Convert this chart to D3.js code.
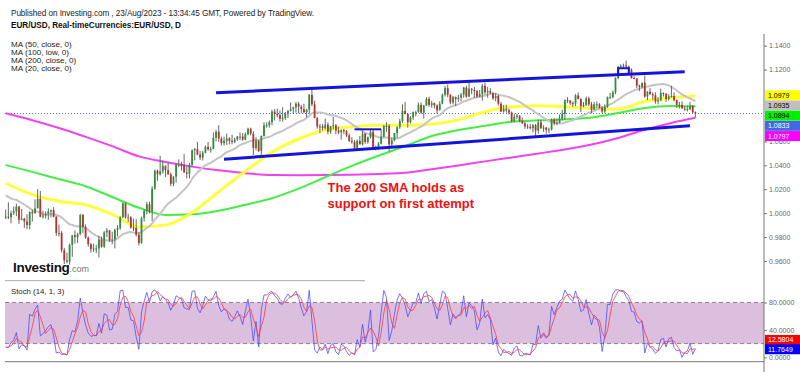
<!DOCTYPE html>
<html>
<head>
<meta charset="utf-8">
<script src="https://cdn.jsdelivr.net/npm/d3@7"></script>
<style>
  body { margin: 0; background: #fff; }
  svg { display: block; font-family: "Liberation Sans", Arial, sans-serif; }
</style>
</head>
<body>
<svg id="chart" width="800" height="376"></svg>
<script>
// ---- data ----
// daily EUR/USD bars, weekdays only, [open, high, low, close] in pips (x 10000)
const firstBarDate = "2022-07-28";      // first bar (warm-up for MA20 / Stoch, left of the window)
const firstVisibleDate = "2022-08-25";  // first bar shown on the chart
const ohlc = [
  // Jul 28 - Aug 24 2022 (warm-up)
  [10200,10235,10095,10195],[10195,10255,10145,10220],[10220,10275,10185,10260],[10260,10295,10160,10165],[10165,10215,10125,10130],
  [10130,10255,10120,10245],[10245,10250,10140,10180],[10180,10230,10165,10195],[10195,10245,10170,10210],[10210,10365,10200,10300],
  [10300,10365,10275,10320],[10320,10330,10235,10260],[10260,10265,10150,10160],[10160,10200,10120,10170],[10170,10200,10125,10180],
  [10180,10190,10075,10090],[10090,10095,10030,10035],[10035,10045,9925,9940],[9940,9980,9900,9970],[9970,9995,9910,9970],
  // Aug 25 - 31 2022
  [9970,10030,9950,9970],[9970,10090,9950,9965],[9965,10020,9915,10000],[10000,10055,9985,10015],[10015,10080,9975,10055],
  // Sep 2022
  [10055,10060,9910,9945],[9945,10035,9940,9955],[9955,9960,9875,9930],[9930,9990,9865,9900],[9900,10015,9865,10010],
  [10010,10030,9930,10000],[10000,10115,9995,10040],[10040,10200,10040,10120],[10120,10185,9965,9970],[9970,10020,9955,9980],
  [9980,10015,9955,9995],[9995,10040,9945,10015],[10015,10030,9965,10025],[10025,10050,9965,9970],[9970,9975,9810,9835],
  [9835,9905,9805,9835],[9835,9850,9670,9690],[9690,9710,9575,9605],[9605,9670,9580,9595],[9595,9745,9570,9735],
  [9735,9815,9635,9815],[9815,9855,9745,9800],
  // Oct 2022
  [9800,9835,9750,9825],[9825,9995,9815,9985],[9985,9995,9835,9885],[9885,9905,9785,9795],[9795,9805,9720,9740],
  [9740,9750,9670,9700],[9700,9745,9675,9705],[9705,9735,9665,9705],[9705,9810,9630,9780],[9780,9805,9710,9720],
  [9720,9850,9710,9840],[9840,9875,9800,9855],[9855,9860,9760,9775],[9775,9845,9740,9780],[9780,9870,9705,9860],
  [9860,9900,9805,9875],[9875,9975,9860,9965],[9965,10090,9960,10080],[10080,10090,9955,9965],[9965,9995,9925,9965],
  [9965,9975,9870,9880],
  // Nov 2022
  [9880,9955,9850,9875],[9875,9950,9805,9820],[9820,9840,9730,9750],[9750,9970,9745,9960],[9960,10035,9930,10020],
  [10020,10095,9990,10075],[10075,10095,10000,10015],[10015,10225,9935,10205],[10205,10365,10195,10355],[10355,10365,10270,10325],
  [10325,10480,10315,10350],[10350,10440,10330,10395],[10395,10400,10300,10360],[10360,10425,10320,10325],[10325,10340,10225,10245],
  [10245,10310,10225,10305],[10305,10415,10255,10405],[10405,10450,10385,10410],[10410,10430,10355,10400],[10400,10495,10340,10340],
  [10340,10390,10290,10330],[10330,10420,10290,10405],
  // Dec 2022
  [10405,10535,10390,10525],[10525,10545,10440,10535],[10535,10595,10485,10490],[10490,10520,10445,10465],[10465,10520,10440,10505],
  [10505,10565,10500,10555],[10555,10595,10520,10535],[10535,10555,10505,10535],[10535,10675,10535,10630],[10630,10695,10600,10680],
  [10680,10735,10595,10625],[10625,10640,10565,10585],[10585,10640,10565,10605],[10605,10665,10570,10625],[10625,10635,10575,10605],
  [10605,10655,10575,10595],[10595,10630,10585,10615],[10615,10645,10605,10640],[10640,10675,10610,10640],[10640,10670,10605,10615],
  [10615,10675,10610,10660],[10660,10715,10650,10705],
  // Jan 2023
  [10705,10715,10650,10665],[10665,10685,10485,10545],[10545,10635,10525,10605],[10605,10610,10510,10520],[10520,10650,10485,10645],
  [10645,10760,10640,10735],[10735,10760,10715,10735],[10735,10775,10715,10760],[10760,10865,10735,10850],[10850,10870,10775,10830],
  [10830,10875,10800,10820],[10820,10860,10765,10790],[10790,10885,10765,10795],[10795,10845,10780,10830],[10830,10860,10795,10855],
  [10855,10925,10850,10870],[10870,10890,10830,10885],[10885,10930,10840,10915],[10915,10930,10835,10890],[10890,10905,10835,10870],
  [10870,10915,10835,10845],[10845,10870,10800,10865],
  // Feb 2023
  [10865,10995,10830,10990],[10990,11035,10895,10910],[10910,10940,10795,10795],[10795,10805,10705,10725],[10725,10745,10670,10725],
  [10725,10745,10690,10710],[10710,10790,10700,10740],[10740,10760,10660,10680],[10680,10730,10665,10725],[10725,10805,10700,10735],
  [10735,10745,10660,10690],[10690,10725,10660,10675],[10675,10700,10615,10695],[10695,10705,10660,10685],[10685,10695,10635,10650],
  [10650,10665,10595,10605],[10605,10635,10580,10595],[10595,10610,10535,10545],[10545,10615,10535,10605],[10605,10645,10575,10575],
  // Mar 2023
  [10575,10690,10565,10665],[10665,10670,10580,10595],[10595,10640,10580,10635],[10635,10695,10625,10680],[10680,10695,10545,10550],
  [10550,10565,10525,10545],[10545,10595,10530,10580],[10580,10700,10575,10640],[10640,10735,10635,10730],[10730,10760,10680,10730],
  [10730,10745,10515,10575],[10575,10630,10550,10610],[10610,10670,10600,10670],[10670,10725,10630,10720],[10720,10790,10705,10770],
  [10770,10910,10755,10855],[10855,10930,10825,10830],[10830,10835,10715,10760],[10760,10810,10750,10800],[10800,10850,10780,10845],
  [10845,10855,10810,10845],[10845,10925,10840,10905],[10905,10925,10830,10840],
  // Apr 2023
  [10840,10905,10790,10900],[10900,10970,10895,10955],[10955,10975,10890,10905],[10905,10940,10880,10920],[10920,10925,10875,10900],
  [10900,10910,10830,10860],[10860,10935,10860,10915],[10915,11000,10910,10990],[10990,11065,10975,11045],[11045,11075,10970,10990],
  [10990,10995,10910,10925],[10925,10980,10910,10970],[10970,10975,10895,10955],[10955,10990,10930,10965],[10965,11005,10935,10990],
  [10990,11055,10965,11050],[11050,11065,10965,10975],[10975,11095,10970,11040],[11040,11045,10995,11030],[11030,11055,10965,11020],
  // May 2023
  [11020,11030,10965,10975],[10975,11030,10970,10995],[10995,11080,10940,11065],[11065,11090,10990,11010],[11010,11055,10965,11020],
  [11020,11045,10995,11005],[11005,11010,10945,10960],[10960,11005,10935,10980],[10980,10990,10900,10915],[10915,10930,10845,10850],
  [10850,10905,10840,10870],[10870,10905,10840,10860],[10860,10875,10825,10840],[10840,10850,10760,10770],[10770,10830,10760,10805],
  [10805,10830,10785,10815],[10815,10820,10760,10770],[10770,10800,10745,10750],[10750,10765,10705,10725],[10725,10745,10705,10720],
  [10720,10745,10700,10710],[10710,10745,10675,10735],[10735,10745,10635,10690],
  // Jun 2023
  [10690,10780,10665,10760],[10760,10780,10705,10710],[10710,10735,10680,10715],[10715,10720,10665,10695],[10695,10715,10670,10700],
  [10700,10790,10690,10780],[10780,10795,10735,10750],[10750,10790,10735,10755],[10755,10825,10750,10790],[10790,10865,10775,10830],
  [10830,10950,10780,10945],[10945,10970,10920,10940],[10940,10945,10905,10920],[10920,10935,10890,10915],[10915,10995,10895,10985],
  [10985,11010,10950,10955],[10955,10960,10845,10895],[10895,10930,10885,10905],[10905,10975,10895,10960],[10960,10975,10895,10910],
  [10910,10930,10835,10865],[10865,10930,10865,10910],
  // Jul 2023
  [10910,10935,10875,10910],[10910,10920,10875,10880],[10880,10895,10835,10850],[10850,10910,10835,10890],[10890,10975,10880,10970],
  [10970,11005,10955,10970],[10970,11025,10960,11010],[11010,11135,10995,11130],[11130,11230,11120,11225],[11225,11245,11205,11230],
  [11230,11250,11205,11235],[11235,11275,11205,11225],[11225,11235,11190,11200],[11200,11210,11125,11130],[11130,11145,11120,11125],
  [11125,11130,11045,11065],[11065,11075,11020,11055],[11055,11090,11045,11090],[11090,11150,10965,10975],[10975,11020,10945,11015],
  [11015,11045,10990,10995],
  // Aug 2023
  [10995,11010,10945,10985],[10985,11010,10915,10935],[10935,10970,10910,10945],[10945,11040,10935,11005],[11005,11010,10975,11000],
  [11000,11000,10930,10955],[10955,10995,10940,10975],[10975,11065,10965,10980],[10980,11010,10935,10945],[10945,10950,10880,10905],
  [10905,10930,10875,10905],[10905,10935,10875,10875],[10875,10895,10855,10870],[10870,10895,10850,10870],[10870,10930,10860,10895],
  [10895,10905,10835,10845],[10845,10850,10800,10833]
];

// slow moving averages at these visible bar numbers
const maSampleBars = [0,10,20,30,40,50,60,70,80,90,100,110,120,130,140,150,160,170,180,190,200,210,220,230,240,250,259];
const ma50Close  = [1.0250,1.0155,1.0100,1.0070,0.9990,0.9885,0.9900,1.0005,1.0180,1.0350,1.0510,1.0620,1.0695,1.0722,1.0735,1.0735,1.0745,1.0780,1.0848,1.0890,1.0898,1.0890,1.0875,1.0870,1.0935,1.0965,1.0979];
const ma100Low   = [1.0402,1.0345,1.0285,1.0225,1.0135,1.0045,0.9985,0.9990,1.0020,1.0070,1.0125,1.0205,1.0300,1.0395,1.0480,1.0560,1.0645,1.0695,1.0730,1.0765,1.0776,1.0785,1.0800,1.0838,1.0880,1.0895,1.0894];
const ma200Close = [1.0835,1.0777,1.0712,1.0638,1.0560,1.0475,1.0428,1.0389,1.0358,1.0334,1.0318,1.0316,1.0318,1.0322,1.0328,1.0337,1.0368,1.0399,1.0433,1.0466,1.0499,1.0533,1.0574,1.0629,1.0697,1.0754,1.0797];

// last values shown in the right-hand boxes: MA50, MA20, MA100, price, MA200
const lastPriceLabels = [1.0979, 1.0935, 1.0894, 1.0833, 1.0797];
const lastStochLabels = [12.5804, 11.7649]; // %D, %K

// drawn trend lines: [date, price] points
const trendLines = [
  [["2022-12-14", 1.1007], ["2023-08-17", 1.1183]],
  [["2022-12-19", 1.0451], ["2023-08-21", 1.0731]]
];
const markLines = [
  [["2023-02-24", 1.0701], ["2023-03-10", 1.0701]],
  [["2023-07-13", 1.1160], ["2023-07-13", 1.1211], ["2023-07-19", 1.1211], ["2023-07-19", 1.1165]]
];

const priceTicks = [0.96, 0.98, 1.00, 1.02, 1.04, 1.06, 1.08, 1.10, 1.12, 1.14];
const stochTicks = [0, 40, 80];
const xTickDates  = ["2022-09-01","2022-10-03","2022-11-01","2022-12-01","2023-01-02","2023-02-01","2023-03-01","2023-04-03","2023-05-01","2023-06-01","2023-07-03","2023-08-01","2023-09-01","2023-09-27"];
const xTickLabels = ["Sep","Oct","Nov","Dec","2023","Feb","Mar","Apr","May","Jun","Jul","Aug","Sep","27"];

const headerLines = [
  "Published on Investing.com , 23/Aug/2023 - 13:34:45 GMT, Powered by TradingView.",
  "EUR/USD, Real-timeCurrencies:EUR/USD, D"
];
const legendLines = ["MA (50, close, 0)", "MA (100, low, 0)", "MA (200, close, 0)", "MA (20, close, 0)"];
const noteLines = ["The 200 SMA holds as", "support on first attempt"];

// ---- setup ----
const svg = d3.select("#chart");
const parse = d3.utcParse("%Y-%m-%d");
const isWeekday = d => d.getUTCDay() !== 0 && d.getUTCDay() !== 6;

const start = parse(firstBarDate);
const barDates = d3.utcDay.range(start, d3.utcDay.offset(start, 600)).filter(isWeekday).slice(0, ohlc.length);
const bars = ohlc.map((r, i) => ({ date: barDates[i], o: r[0] / 1e4, h: r[1] / 1e4, l: r[2] / 1e4, c: r[3] / 1e4 }));
const visStart = bars.findIndex(b => +b.date === +parse(firstVisibleDate));

// bar number (weekdays since the first visible bar), works for future dates too
function barIndex(s) {
  return d3.utcDay.range(parse(firstVisibleDate), parse(s)).filter(isWeekday).length;
}

const paneLeft = 5, paneRight = 764;
const x = d3.scaleLinear().domain([0, barIndex("2023-09-01")]).range([5.7, 714]);
const y = d3.scaleLinear().domain([0.96, 1.14]).range([261, 45.7]);
const ys = d3.scaleLinear().domain([0, 80]).range([357.3, 302.5]);

// indicators computed from the bars
bars.forEach((b, i) => {
  if (i >= 19) b.ma20 = d3.mean(bars.slice(i - 19, i + 1), d => d.c);
  if (i >= 13) {
    const win = bars.slice(i - 13, i + 1);
    const hh = d3.max(win, d => d.h), ll = d3.min(win, d => d.l);
    b.k = hh === ll ? 50 : 100 * (b.c - ll) / (hh - ll);
  }
  if (i >= 15) b.d = (bars[i].k + bars[i - 1].k + bars[i - 2].k) / 3;
});
const visible = bars.slice(visStart).map((b, i) => ({ ...b, i }));

svg.append("defs").append("clipPath").attr("id", "pane")
  .append("rect").attr("x", paneLeft).attr("y", 30).attr("width", paneRight - paneLeft).attr("height", 340);

// ---- header text ----
svg.append("text").attr("x", 11).attr("y", 15.5).attr("font-size", 8.2).attr("fill", "#222")
  .attr("textLength", 303).attr("lengthAdjust", "spacing").text(headerLines[0]);
svg.append("text").attr("x", 11).attr("y", 28).attr("font-size", 8.2).attr("font-weight", "bold").attr("fill", "#111")
  .attr("textLength", 170).attr("lengthAdjust", "spacing").text(headerLines[1]);
svg.selectAll(".legend").data(legendLines).join("text")
  .attr("x", 11).attr("y", (d, i) => 47 + i * 8)
  .attr("font-size", 8.1).attr("fill", "#222").text(d => d);

// ---- price pane ----
const price = svg.append("g").attr("clip-path", "url(#pane)");

// current price dotted line
price.append("line")
  .attr("x1", paneLeft).attr("x2", paneRight)
  .attr("y1", y(lastPriceLabels[3])).attr("y2", y(lastPriceLabels[3]))
  .attr("stroke", "#4a6fe0").attr("stroke-width", 1).attr("stroke-dasharray", "1,2");

const sampleLine = d3.line().x((d, i) => x(maSampleBars[i])).y(d => y(d)).curve(d3.curveMonotoneX);
price.append("path").attr("d", sampleLine(ma200Close)).attr("fill", "none").attr("stroke", "#ee44ee").attr("stroke-width", 2);
price.append("path").attr("d", sampleLine(ma100Low)).attr("fill", "none").attr("stroke", "#44ee44").attr("stroke-width", 2);
price.append("path").attr("d", sampleLine(ma50Close)).attr("fill", "none").attr("stroke", "#ffff3c").attr("stroke-width", 3);
price.append("path")
  .attr("d", d3.line().x(d => x(d.i)).y(d => y(d.ma20))(visible))
  .attr("fill", "none").attr("stroke", "#c4c4c4").attr("stroke-width", 2);

// candles
const candle = price.selectAll(".candle").data(visible).join("g");
candle.append("line")
  .attr("x1", d => x(d.i)).attr("x2", d => x(d.i))
  .attr("y1", d => y(d.h)).attr("y2", d => y(d.l))
  .attr("stroke", "#666").attr("stroke-width", 1);
candle.append("rect")
  .attr("x", d => x(d.i) - 0.9).attr("width", 1.8)
  .attr("y", d => y(Math.max(d.o, d.c)))
  .attr("height", d => Math.max(1, Math.abs(y(d.o) - y(d.c))))
  .attr("fill", d => d.c >= d.o ? "#2f8f3c" : "#b3342c");

// trend lines
const ptLine = d3.line().x(p => x(barIndex(p[0]))).y(p => y(p[1]));
price.selectAll(".trend").data(trendLines).join("path")
  .attr("d", ptLine).attr("fill", "none").attr("stroke", "#1414dc").attr("stroke-width", 3);
price.selectAll(".mark").data(markLines).join("path")
  .attr("d", ptLine).attr("fill", "none").attr("stroke", "#1414dc").attr("stroke-width", 2);

// annotation
svg.selectAll(".note").data(noteLines).join("text")
  .attr("x", 327.5).attr("y", (d, i) => 191.5 + i * 16.5)
  .attr("font-size", 13).attr("font-weight", "bold").attr("fill", "#ee1111").text(d => d);

// Investing logo
const logo = svg.append("text").attr("x", 13).attr("y", 271.5);
logo.append("tspan").attr("font-size", 13.5).attr("font-weight", "bold").attr("fill", "#111").attr("letter-spacing", -0.3).text("Investing");
logo.append("tspan").attr("font-size", 9).attr("fill", "#777").text(".com");

// pane separator
svg.append("line").attr("x1", 5).attr("x2", 365).attr("y1", 280.7).attr("y2", 280.7).attr("stroke", "#aaa");

// ---- stochastic pane ----
svg.append("text").attr("x", 11).attr("y", 294).attr("font-size", 7.8).attr("fill", "#222").text("Stoch (14, 1, 3)");

const stoch = svg.append("g").attr("clip-path", "url(#pane)");
stoch.append("rect")
  .attr("x", paneLeft).attr("width", paneRight - paneLeft)
  .attr("y", ys(80)).attr("height", ys(20) - ys(80))
  .attr("fill", "#dcbfdf");
[80, 20].forEach(v => stoch.append("line")
  .attr("x1", paneLeft).attr("x2", paneRight).attr("y1", ys(v)).attr("y2", ys(v))
  .attr("stroke", "#8a8290").attr("stroke-dasharray", "4,3"));
stoch.append("path")
  .attr("d", d3.line().x(d => x(d.i)).y(d => ys(d.k))(visible))
  .attr("fill", "none").attr("stroke", "#4545ff").attr("stroke-opacity", 0.75).attr("stroke-width", 1);
stoch.append("path")
  .attr("d", d3.line().x(d => x(d.i)).y(d => ys(d.d))(visible))
  .attr("fill", "none").attr("stroke", "#ff3a3a").attr("stroke-opacity", 0.8).attr("stroke-width", 1);

// ---- axes ----
svg.append("line").attr("x1", paneRight).attr("x2", paneRight).attr("y1", 34).attr("y2", 372).attr("stroke", "#777");
svg.append("line").attr("x1", paneLeft).attr("x2", paneRight).attr("y1", 361.7).attr("y2", 361.7).attr("stroke", "#777");

function styleAxis(g) {
  g.select(".domain").remove();
  g.selectAll("line").attr("stroke", "#777");
  g.selectAll("text").attr("fill", "#666").attr("font-size", 7).attr("font-family", "Liberation Sans, Arial, sans-serif");
}

// last value boxes sit on the price axis and hide the tick labels under them
let prev = -Infinity;
const priceBoxes = lastPriceLabels.map(v => {
  const cy = Math.max(y(v) - 0.8, prev + 10.2);
  prev = cy;
  return { v, cy };
});
const hidden = t => priceBoxes.some(b => Math.abs(y(t) - b.cy) < 4);

svg.append("g").attr("transform", `translate(${paneRight},0)`)
  .call(d3.axisRight(y).tickValues(priceTicks.filter(t => !hidden(t))).tickFormat(d3.format(".4f")).tickSize(3).tickPadding(2))
  .call(styleAxis);
svg.append("g").attr("transform", `translate(${paneRight},0)`)
  .call(d3.axisRight(ys).tickValues(stochTicks).tickFormat(d3.format(".4f")).tickSize(3).tickPadding(2))
  .call(styleAxis);

const xAxisClip = svg.append("defs").append("clipPath").attr("id", "xclip");
xAxisClip.append("rect").attr("x", 0).attr("y", 355).attr("width", paneRight).attr("height", 21);
svg.append("g").attr("transform", "translate(0,361.7)").attr("clip-path", "url(#xclip)")
  .call(d3.axisBottom(x).tickValues(xTickDates.map(barIndex)).tickFormat((d, i) => xTickLabels[i]).tickSize(0).tickPadding(3))
  .call(styleAxis);

const priceBoxColors = [["#ffff00", "#000"], ["#c0c0c0", "#000"], ["#00f000", "#000"], ["#4169e1", "#fff"], ["#ff00ff", "#fff"]];
priceBoxes.forEach((b, i) => {
  svg.append("rect").attr("x", paneRight + 1).attr("y", b.cy - 5).attr("width", 36).attr("height", 10).attr("fill", priceBoxColors[i][0]);
  svg.append("text").attr("x", paneRight + 4).attr("y", b.cy + 2.5).attr("font-size", 7).attr("fill", priceBoxColors[i][1]).text(b.v.toFixed(4));
});
const stochBoxColors = ["#ff0000", "#0000ff"];
const kY = ys(lastStochLabels[1]);
[kY - 9.3, kY].forEach((cy, i) => {
  svg.append("rect").attr("x", paneRight + 1).attr("y", cy - 5).attr("width", 36).attr("height", 10).attr("fill", stochBoxColors[i]);
  svg.append("text").attr("x", paneRight + 4).attr("y", cy + 2.5).attr("font-size", 7).attr("fill", "#fff").text(lastStochLabels[i].toFixed(4));
});
</script>
</body>
</html>
